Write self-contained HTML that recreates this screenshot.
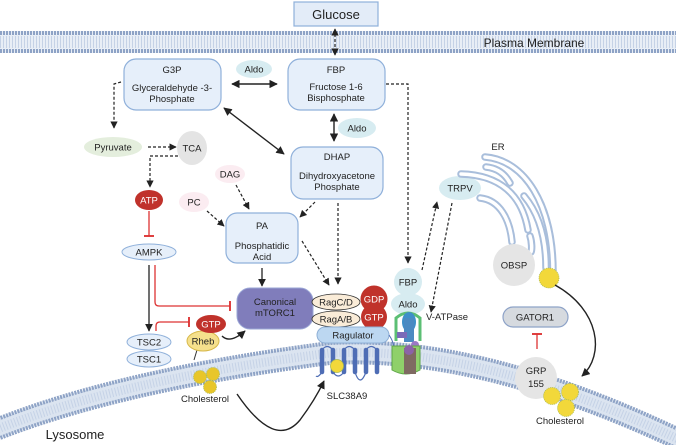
<!DOCTYPE html>
<html><head><meta charset="utf-8"><style>
html,body{margin:0;padding:0;background:#fff;}
svg{display:block;font-family:"Liberation Sans",sans-serif;}
text{font-size:9.5px;fill:#222;text-anchor:middle;}
</style></head><body>
<svg width="676" height="445" viewBox="0 0 676 445" xmlns="http://www.w3.org/2000/svg">
<defs>
<marker id="ah" viewBox="0 0 10 10" refX="9" refY="5" markerWidth="6" markerHeight="6" orient="auto-start-reverse"><path d="M0,0L10,5L0,10z" fill="#222"/></marker>
<marker id="tb" viewBox="0 0 10 10" refX="5" refY="5" markerWidth="8" markerHeight="8" orient="auto"><path d="M5,0V10" stroke="#d33" stroke-width="1.8"/></marker>
</defs>
<!-- Plasma membrane -->
<rect x="0" y="31" width="676" height="22" fill="#e8eef6"/>
<line x1="0" y1="33" x2="676" y2="33" stroke="#8ea3c6" stroke-width="4" stroke-dasharray="2,1"/>
<line x1="0" y1="51" x2="676" y2="51" stroke="#8ea3c6" stroke-width="4" stroke-dasharray="2,1"/>
<line x1="0" y1="39" x2="676" y2="39" stroke="#c5d2e6" stroke-width="6" stroke-dasharray="1,2"/>
<line x1="0" y1="45" x2="676" y2="45" stroke="#c5d2e6" stroke-width="6" stroke-dasharray="1,2"/>
<text x="534" y="47" style="font-size:12px">Plasma Membrane</text>
<rect x="294" y="2" width="84" height="24" fill="#e3ecf8" stroke="#8fb0da" stroke-width="1.2"/>
<text x="336" y="19" style="font-size:13px">Glucose</text>
<line x1="335" y1="29" x2="335" y2="55" stroke="#222" stroke-width="1.2" stroke-dasharray="3,2" marker-start="url(#ah)" marker-end="url(#ah)"/>

<!-- Lysosome membrane -->
<g fill="none">
<path d="M-5,420 Q120,370 330,343 Q480,335 680,430" stroke="#dbe4f0" stroke-width="20" transform="translate(0,10)"/>
<path d="M-5,420 Q120,370 330,343 Q480,335 680,430" stroke="#8ea3c6" stroke-width="4" stroke-dasharray="2,1"/>
<path d="M-5,420 Q120,370 330,343 Q480,335 680,430" stroke="#8ea3c6" stroke-width="4" stroke-dasharray="2,1" transform="translate(0,20)"/>
<path d="M-5,420 Q120,370 330,343 Q480,335 680,430" stroke="#c5d2e6" stroke-width="9" stroke-dasharray="1,2" transform="translate(0,10)"/>
</g>
<text x="75" y="439" style="font-size:13px">Lysosome</text>

<!-- top boxes -->
<rect x="124" y="59" width="97" height="51" rx="12" fill="#e6effa" stroke="#8fb0da" stroke-width="1.2"/>
<text x="172" y="73">G3P</text><text x="172" y="91">Glyceraldehyde -3-</text><text x="172" y="102">Phosphate</text>
<rect x="288" y="59" width="97" height="51" rx="12" fill="#e6effa" stroke="#8fb0da" stroke-width="1.2"/>
<text x="336" y="73">FBP</text><text x="336" y="90">Fructose 1-6</text><text x="336" y="101">Bisphosphate</text>
<ellipse cx="254" cy="69" rx="18" ry="9" fill="#d7ecf1"/><text x="254" y="72.5">Aldo</text>
<line x1="232" y1="84" x2="277" y2="84" stroke="#222" stroke-width="1.4" marker-start="url(#ah)" marker-end="url(#ah)"/>
<line x1="334" y1="114" x2="334" y2="141" stroke="#222" stroke-width="1.4" marker-start="url(#ah)" marker-end="url(#ah)"/>
<ellipse cx="357" cy="128" rx="19" ry="10" fill="#d7ecf1"/><text x="357" y="131.5">Aldo</text>
<line x1="224" y1="108" x2="284" y2="154" stroke="#222" stroke-width="1.4" marker-start="url(#ah)" marker-end="url(#ah)"/>
<rect x="291" y="147" width="92" height="52" rx="12" fill="#e6effa" stroke="#8fb0da" stroke-width="1.2"/>
<text x="337" y="160">DHAP</text><text x="337" y="179">Dihydroxyacetone</text><text x="337" y="190">Phosphate</text>

<!-- left metabolic -->
<path d="M121,82 L114,84 L114,128" fill="none" stroke="#222" stroke-width="1.2" stroke-dasharray="3,2" marker-end="url(#ah)"/>
<ellipse cx="113" cy="147" rx="29" ry="10" fill="#e4eedd"/><text x="113" y="150.5">Pyruvate</text>
<line x1="148" y1="147" x2="176" y2="147" stroke="#222" stroke-width="1.2" stroke-dasharray="3,2" marker-end="url(#ah)"/>
<ellipse cx="192" cy="148" rx="15" ry="17" fill="#e4e4e4"/><text x="192" y="151.5">TCA</text>
<path d="M178,156 L150,156 L150,187" fill="none" stroke="#222" stroke-width="1.2" stroke-dasharray="3,2" marker-end="url(#ah)"/>
<ellipse cx="149" cy="200" rx="14" ry="10" fill="#c0322b"/><text x="149" y="203.5" style="fill:#fff">ATP</text>
<line x1="149" y1="211" x2="149" y2="236" stroke="#d33" stroke-width="1.3" marker-end="url(#tb)"/>
<ellipse cx="230" cy="174" rx="15" ry="9" fill="#fbecf1"/><text x="230" y="177.5">DAG</text>
<ellipse cx="194" cy="202" rx="15" ry="10" fill="#fbecf1"/><text x="194" y="205.5">PC</text>
<line x1="236" y1="185" x2="249" y2="209" stroke="#222" stroke-width="1.2" stroke-dasharray="3,2" marker-end="url(#ah)"/>
<line x1="207" y1="211" x2="224" y2="226" stroke="#222" stroke-width="1.2" stroke-dasharray="3,2" marker-end="url(#ah)"/>
<line x1="315" y1="202" x2="300" y2="217" stroke="#222" stroke-width="1.2" stroke-dasharray="3,2" marker-end="url(#ah)"/>
<rect x="226" y="213" width="72" height="50" rx="11" fill="#e6effa" stroke="#8fb0da" stroke-width="1.2"/>
<text x="262" y="229">PA</text><text x="262" y="249">Phosphatidic</text><text x="262" y="260">Acid</text>
<line x1="338" y1="203" x2="338" y2="284" stroke="#222" stroke-width="1.2" stroke-dasharray="3,2" marker-end="url(#ah)"/>
<line x1="302" y1="241" x2="329" y2="285" stroke="#222" stroke-width="1.2" stroke-dasharray="3,2" marker-end="url(#ah)"/>
<path d="M386,84 L408,84 L408,263" fill="none" stroke="#222" stroke-width="1.2" stroke-dasharray="3,2" marker-end="url(#ah)"/>

<!-- AMPK / TSC -->
<ellipse cx="149" cy="252" rx="27" ry="8" fill="#e6effa" stroke="#8fb0da" stroke-width="1"/><text x="149" y="255.5">AMPK</text>
<line x1="149" y1="265" x2="149" y2="331" stroke="#222" stroke-width="1.3" marker-end="url(#ah)"/>
<path d="M155,265 L155,302 Q155,306 159,306 L230,306" fill="none" stroke="#d33" stroke-width="1.3" marker-end="url(#tb)"/>
<path d="M156,331 L156,326 Q156,322 160,322 L189,322" fill="none" stroke="#d33" stroke-width="1.3" marker-end="url(#tb)"/>
<ellipse cx="149" cy="342" rx="22" ry="8" fill="#e6effa" stroke="#8fb0da" stroke-width="1"/><text x="149" y="345.5">TSC2</text>
<ellipse cx="149" cy="359" rx="22" ry="8" fill="#e6effa" stroke="#8fb0da" stroke-width="1"/><text x="149" y="362.5">TSC1</text>
<line x1="262" y1="268" x2="262" y2="286" stroke="#222" stroke-width="1.3" marker-end="url(#ah)"/>
<rect x="237" y="288" width="76" height="41" rx="13" fill="#807dbb" stroke="#9aa6d6" stroke-width="1"/>
<text x="275" y="305">Canonical</text><text x="275" y="316">mTORC1</text>
<line x1="197" y1="350" x2="194" y2="360" stroke="#333" stroke-width="1"/>
<ellipse cx="203" cy="341" rx="16" ry="10" fill="#f5e08c" stroke="#d7b84a"/><text x="203" y="344.5">Rheb</text>
<ellipse cx="211" cy="324" rx="15" ry="9" fill="#c0322b"/><text x="211" y="327.5" style="fill:#fff">GTP</text>
<path d="M222,336 Q230,344 245,331" fill="none" stroke="#222" stroke-width="1.4" marker-end="url(#ah)"/>
<g fill="#e8c62a" stroke="#a8b850" stroke-width="0.8" stroke-dasharray="1,1">
<circle cx="200" cy="377" r="6.5"/><circle cx="213" cy="374" r="6.5"/><circle cx="210" cy="387" r="6.5"/></g>
<text x="205" y="402">Cholesterol</text>
<path d="M237,394 Q275,450 300,420 Q315,400 324,381" fill="none" stroke="#222" stroke-width="1.4" marker-end="url(#ah)"/>

<!-- Rags -->
<ellipse cx="336" cy="302" rx="24" ry="8" fill="#faecd8" stroke="#333" stroke-width="0.8"/><text x="336" y="305.5">RagC/D</text>
<ellipse cx="336" cy="319" rx="24" ry="8" fill="#faecd8" stroke="#333" stroke-width="0.8"/><text x="336" y="322.5">RagA/B</text>
<circle cx="374" cy="299" r="13.5" fill="#c0322b"/><text x="374" y="302.5" style="fill:#fff">GDP</text>
<circle cx="374" cy="317" r="13" fill="#c0322b"/><text x="374" y="320.5" style="fill:#fff">GTP</text>
<rect x="317" y="327" width="72" height="16" rx="8" fill="#bcd7f1" stroke="#8fb0d6"/><text x="353" y="338.5">Ragulator</text>
<path d="M389,335 Q396,345 392,352" fill="none" stroke="#4e6db5" stroke-width="1"/>
<g stroke="#4e6db5" stroke-width="4.5" stroke-linecap="round">
<line x1="322" y1="350" x2="322" y2="372"/><line x1="333" y1="350" x2="333" y2="372"/><line x1="344" y1="350" x2="344" y2="372"/><line x1="355" y1="350" x2="355" y2="372"/><line x1="366" y1="350" x2="366" y2="372"/><line x1="377" y1="350" x2="377" y2="372"/></g>
<path d="M322,350 Q327,343 333,350 M344,350 Q349,343 355,350 M366,350 Q371,343 377,350 M333,372 Q338,380 344,372 M355,372 Q360,388 366,372 M322,372 Q318,378 316,376" fill="none" stroke="#4e6db5" stroke-width="1.2"/>
<circle cx="337" cy="366" r="6.5" fill="#f2d83a" stroke="#a8b850" stroke-width="0.8"/>
<text x="347" y="399">SLC38A9</text>

<!-- V-ATPase -->
<circle cx="408" cy="282" r="14" fill="#d7ecf1"/><text x="408" y="285.5">FBP</text>
<ellipse cx="408" cy="304" rx="17" ry="11" fill="#d7ecf1"/><text x="408" y="307.5">Aldo</text>
<path d="M396,341 L396,318 Q408,308 420,318 L420,341" fill="none" stroke="#5cbf74" stroke-width="3"/>
<ellipse cx="409" cy="322" rx="7" ry="10" fill="#3f8fc9"/>
<rect x="404" y="318" width="10" height="24" fill="#4b8ac2"/>
<rect x="397" y="332" width="10" height="6" fill="#7a6ab8"/><circle cx="415" cy="345" r="4" fill="#9b79c5"/>
<path d="M392,346 L420,346 L420,370 Q406,378 392,370 Z" fill="#8fd06a" stroke="#5ea647" stroke-width="1"/>
<rect x="404" y="348" width="12" height="26" fill="#7f6a62"/>
<circle cx="409" cy="350" r="5" fill="#8b63a8"/>
<text x="447" y="320">V-ATPase</text>
<ellipse cx="460" cy="188" rx="21" ry="12" fill="#d7ecf1"/><text x="460" y="191.5">TRPV</text>
<line x1="422" y1="270" x2="437" y2="202" stroke="#222" stroke-width="1.2" stroke-dasharray="3,2" marker-end="url(#ah)"/>
<line x1="452" y1="203" x2="431" y2="312" stroke="#222" stroke-width="1.2" stroke-dasharray="3,2" marker-end="url(#ah)"/>

<!-- ER -->
<text x="498" y="150">ER</text>
<g fill="none" stroke-linecap="round">
<g stroke="#a9bedb" stroke-width="7.5">
<path d="M485,157 C525,160 553,205 553,272"/>
<path d="M486,167 C497,168 505,174 510,183"/>
<path d="M461,174 C500,175 522,195 528,230"/>
<path d="M524,196 C540,215 546,240 546,268"/>
<path d="M480,198 C500,200 510,220 512,242"/>
<path d="M530,236 C532,242 532,250 531,252"/>
</g>
<g stroke="#fff" stroke-width="3.5">
<path d="M485,157 C525,160 553,205 553,272"/>
<path d="M486,167 C497,168 505,174 510,183"/>
<path d="M461,174 C500,175 522,195 528,230"/>
<path d="M524,196 C540,215 546,240 546,268"/>
<path d="M480,198 C500,200 510,220 512,242"/>
<path d="M530,236 C532,242 532,250 531,252"/>
</g></g>
<circle cx="514" cy="265" r="21" fill="#e5e5e5"/><text x="514" y="268.5">OBSP</text>
<circle cx="549" cy="278" r="10" fill="#f2d83a" stroke="#a8b850" stroke-width="0.8" stroke-dasharray="1,1"/>
<path d="M555,285 C600,310 605,355 582,376" fill="none" stroke="#222" stroke-width="1.4" marker-end="url(#ah)"/>
<rect x="503" y="307" width="65" height="20" rx="10" fill="#d6dadf" stroke="#8ea3c8" stroke-width="1.2"/><text x="535" y="320.5">GATOR1</text>
<line x1="537" y1="349" x2="537" y2="334" stroke="#d33" stroke-width="1.3" marker-end="url(#tb)"/>
<circle cx="536" cy="378" r="21" fill="#e5e5e5"/><text x="536" y="374">GRP</text><text x="536" y="387">155</text>
<g fill="#f2d83a" stroke="#a8b850" stroke-width="0.8" stroke-dasharray="1,1">
<circle cx="552" cy="396" r="8.5"/><circle cx="570" cy="392" r="8.5"/><circle cx="566" cy="408" r="8.5"/></g>
<text x="560" y="424">Cholesterol</text>
</svg>
</body></html>
